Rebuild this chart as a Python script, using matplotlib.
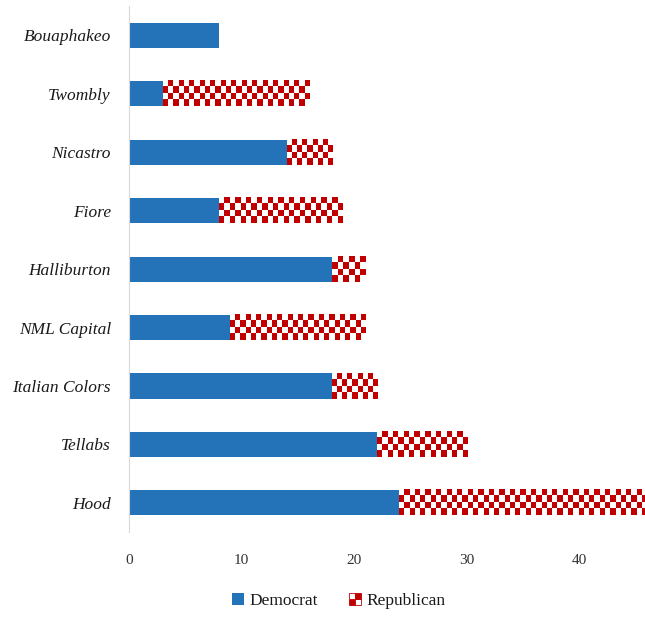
import numpy as np
import matplotlib
matplotlib.use('Agg')
import matplotlib.pyplot as plt
from matplotlib.patches import Rectangle, Patch
from matplotlib.legend_handler import HandlerBase
from matplotlib.colors import ListedColormap

names = ['Hood', 'Tellabs', 'Italian Colors', 'NML Capital', 'Halliburton',
         'Fiore', 'Nicastro', 'Twombly', 'Bouaphakeo']
democrat = [24, 22, 18, 9, 18, 8, 14, 3, 8]
republican = [22, 8, 4, 12, 3, 11, 4, 13, 0]
xticks = [0, 10, 20, 30, 40]

blue = '#2473B8'
red = '#C00000'

fig = plt.figure(figsize=(6.45, 6.18), dpi=100)
ax = fig.add_axes([0.2, 0.139, 0.8, 0.851])

y = np.arange(len(names))
h = 0.43
ax.barh(y, democrat, height=h, color=blue, zorder=2)

# republican: checkerboard pattern drawn as small images over each segment
checker_cmap = ListedColormap(['white', red])
xmax = 45.8
px_per_unit = 516 / xmax
cell = 5.3
for yi, left, w in zip(y, democrat, republican):
    if w <= 0:
        continue
    ncols = max(1, int(round(w * px_per_unit / cell)))
    nrows = 4
    ii, jj = np.indices((nrows, ncols))
    board = (ii + jj) % 2
    ax.imshow(board, cmap=checker_cmap, interpolation='nearest', aspect='auto',
              extent=[left, left + w, yi - h / 2, yi + h / 2], zorder=2)

ax.set_xlim(0, xmax)
ax.set_ylim(-0.5, len(names) - 0.5)
ax.set_yticks(y)
ax.set_yticklabels(names, fontfamily='Liberation Serif', fontstyle='italic', fontsize=12.5,
                   color='#1a1a1a')
ax.set_xticks(xticks)
ax.set_xticklabels([str(t) for t in xticks], fontfamily='Liberation Serif', fontsize=11,
                   color='#333333')
ax.tick_params(axis='both', length=0)
ax.tick_params(axis='y', pad=13)
ax.tick_params(axis='x', pad=16)
for s in ['top', 'right', 'bottom']:
    ax.spines[s].set_visible(False)
ax.spines['left'].set_color('#D9D9D9')


class CheckerHandler(HandlerBase):
    def create_artists(self, legend, orig_handle, xdescent, ydescent, width, height, fontsize, trans):
        arts = []
        s = height / 2
        x0 = -xdescent + width - 2 * s
        for i in range(2):
            for j in range(2):
                fc = red if (i + j) % 2 == 0 else 'white'
                r = Rectangle((x0 + j * s, -ydescent + i * s), s, s, facecolor=fc,
                              edgecolor=red, linewidth=0.6, transform=trans)
                arts.append(r)
        return arts


dem_handle = Patch(facecolor=blue)
rep_handle = Patch(facecolor=red)
fig.legend([dem_handle, rep_handle], ['Democrat', 'Republican'],
           handler_map={rep_handle: CheckerHandler()},
           loc='center', bbox_to_anchor=(0.525, 0.027), ncol=2, frameon=False,
           prop={'family': 'Liberation Serif', 'size': 12.5},
           handlelength=0.7, handleheight=0.7, handletextpad=0.3, columnspacing=1.8,
           labelcolor='#1a1a1a')

fig.savefig('out.png', dpi=100)
